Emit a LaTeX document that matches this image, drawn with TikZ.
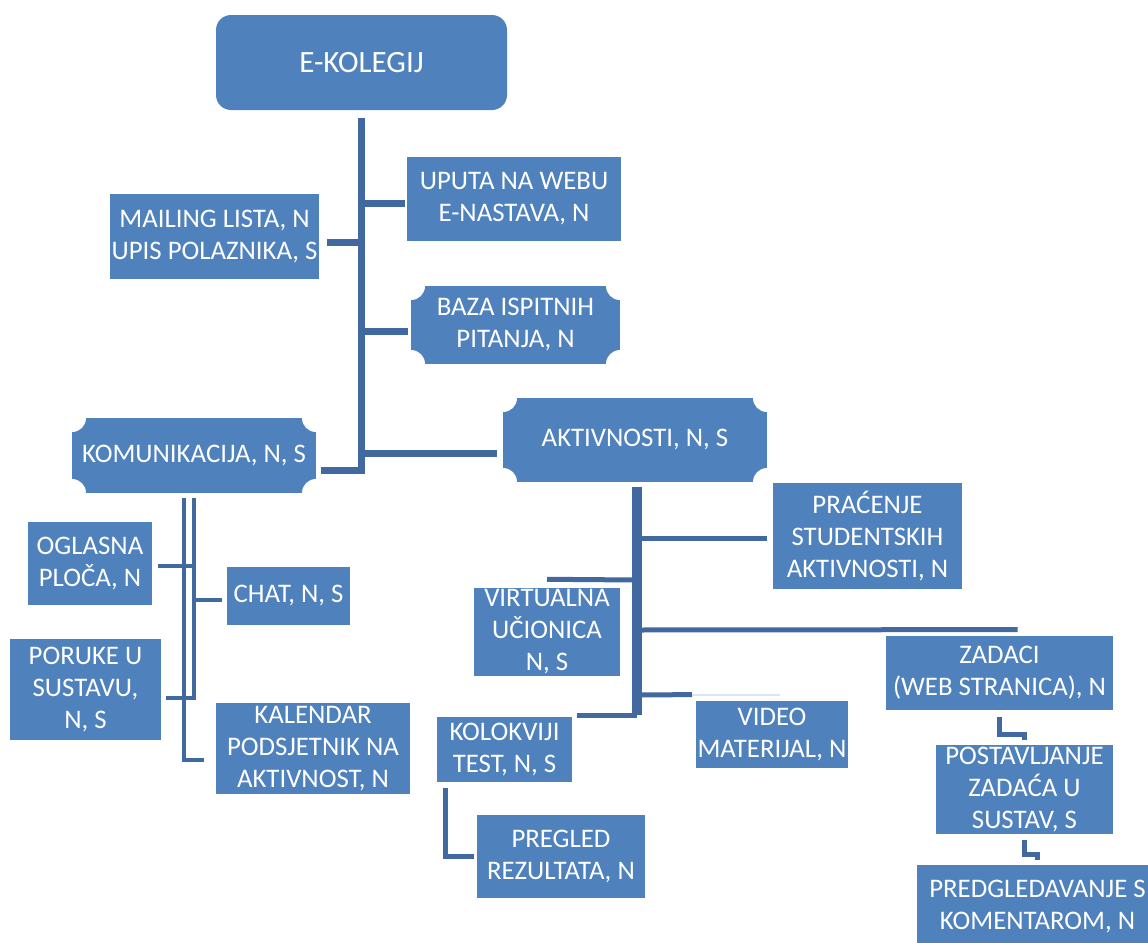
\documentclass[tikz,border=0pt]{standalone}
\usepackage{fontspec}
\setmainfont{Carlito}
\usetikzlibrary{positioning}
\definecolor{boxblue}{HTML}{4F81BD}
\definecolor{lineblue}{HTML}{41699F}

\begin{document}
\begin{tikzpicture}[
        x=0.5pt, y=-0.5pt,
        every node/.style={fill=boxblue, text=white, align=center, inner sep=1pt, font=\fontsize{13.4}{16}\selectfont},
        sz/.style 2 args={minimum width=#1*0.5pt, minimum height=#2*0.5pt},
        title/.style={rounded corners=7.5pt, font=\fontsize{15.5}{18}\selectfont},
        plaque/.style={path picture={
            \foreach \c in {north west, north east, south west, south east}
              \fill[white] (path picture bounding box.\c) circle[radius=7pt];}},
        trunk/.style={draw=lineblue, line width=3.5pt},
        link/.style={draw=lineblue, line width=2.2pt},
        faint/.style={draw=boxblue!20, line width=1pt}
    ]
    \useasboundingbox (0,0) rectangle (1148,943);
    \clip (0,0) rectangle (1148,943);

    % Nodes
    \node[title, sz={291}{95}] (ekol) at (361.5,62.5) {E-KOLEGIJ};
    \node[sz={207}{85}] (mail) at (214.5,236.5) {MAILING LISTA, N\\UPIS POLAZNIKA, S};
    \node[sz={214}{84}] (uputa) at (514,199) {UPUTA NA WEBU\\E-NASTAVA, N};
    \node[plaque, sz={209}{78}] (baza) at (515.5,325) {BAZA ISPITNIH\\PITANJA, N};
    \node[plaque, sz={244}{75}] (komun) at (194,455.5) {KOMUNIKACIJA, N, S};
    \node[plaque, sz={264}{84}] (aktiv) at (635,440) {AKTIVNOSTI, N, S};

    \node[sz={124}{83}] (oglas) at (90,563.5) {OGLASNA\\PLOČA, N};
    \node[sz={123}{58}] (chat) at (288.5,596) {CHAT, N, S};
    \node[sz={151}{101}] (poruke) at (85.5,689.5) {PORUKE U\\SUSTAVU,\\N, S};
    \node[sz={194}{91}] (kalend) at (313,748.5) {KALENDAR\\PODSJETNIK NA\\AKTIVNOST, N};

    \node[sz={189}{106}] (pracen) at (867.5,536) {PRAĆENJE\\STUDENTSKIH\\AKTIVNOSTI, N};
    \node[sz={146}{88}] (virt) at (547,632) {VIRTUALNA\\UČIONICA\\N, S};
    \node[sz={150}{67}] (video) at (772,734.5) {VIDEO\\MATERIJAL, N};
    \node[sz={135}{65}] (kolok) at (504.5,749.5) {KOLOKVIJI\\TEST, N, S};
    \node[sz={168}{83}] (pregl) at (561,856.5) {PREGLED\\REZULTATA, N};
    \node[sz={227}{74}] (zadaci) at (999.5,673) {ZADACI\\(WEB STRANICA), N};
    \node[sz={177}{89}] (postav) at (1024.5,789.5) {POSTAVLJANJE\\ZADAĆA U\\SUSTAV, S};
    \node[sz={241}{84}] (predgl) at (1037.5,907) {PREDGLEDAVANJE S\\KOMENTAROM, N};

    % Junctions
    \coordinate (tb) at (361.5,470);
    \coordinate (j1) at (361.5,203);
    \coordinate (j2) at (361.5,242);
    \coordinate (j3) at (361.5,331);
    \coordinate (j4) at (361.5,453);
    \coordinate (ka) at (184,498);
    \coordinate (kc) at (184,760);
    \coordinate (kb) at (194,498);
    \coordinate (ko) at (194,566);
    \coordinate (kch) at (194,600);
    \coordinate (kd) at (194,698);
    \coordinate (aa) at (637,487);
    \coordinate (ab) at (637,715);
    \coordinate (a1) at (637,538);
    \coordinate (a2) at (637,580);
    \coordinate (a3) at (637,630);
    \coordinate (a4) at (637,695);

    % Connectors
    \draw[trunk] ([yshift=-4pt]ekol.south) -- (tb) -- ([xshift=2.5pt]komun.east |- tb);
    \draw[trunk] (j1) -- ([xshift=-1pt]uputa.west |- j1);
    \draw[trunk] (j2) -- ([xshift=3.5pt]mail.east |- j2);
    \draw[trunk] (j3) -- ([xshift=-1.5pt]baza.west |- j3);
    \draw[trunk] (j4) -- ([xshift=-3pt]aktiv.west |- j4);

    \draw[link] (ka) -- (kc) -- ([xshift=-6pt]kalend.west |- kc);
    \draw[link] (kb) -- (kd) -- ([xshift=2.5pt]poruke.east |- kd);
    \draw[link] ([xshift=3pt]oglas.east |- ko) -- (ko);
    \draw[link] (kch) -- ([xshift=-2.5pt]chat.west |- kch);

    \draw[trunk, line width=5pt] (aa) -- (ab);
    \draw[link, line width=2.5pt] (ab) -- ([xshift=2.5pt]kolok.north east |- ab);
    \draw[link, line width=2.5pt] (a1) -- ([xshift=-3pt]pracen.west |- a1);
    \draw[link, line width=2.5pt] (a2) -- ([yshift=4pt]virt.north);
    \draw[link, line width=2.5pt] (a3) -- ([xshift=9pt,yshift=3pt]zadaci.north);
    \draw[link, line width=2.5pt] (a4) -- ([xshift=-40pt,yshift=3pt]video.north);
    \draw[faint] ([xshift=-40pt,yshift=3pt]video.north) -- ([xshift=4pt,yshift=3pt]video.north);

    \draw[link] ([xshift=4.5pt,yshift=-3pt]kolok.south west) |- ([xshift=-1.5pt]pregl.west);
    \draw[link] ([yshift=-3.5pt]zadaci.south) |- ([yshift=5pt]postav.north) -- ([yshift=2.5pt]postav.north);
    \draw[link] ([yshift=-3pt]postav.south) |- ([yshift=5pt]predgl.north) -- ([yshift=2.5pt]predgl.north);

\end{tikzpicture}
\end{document}
